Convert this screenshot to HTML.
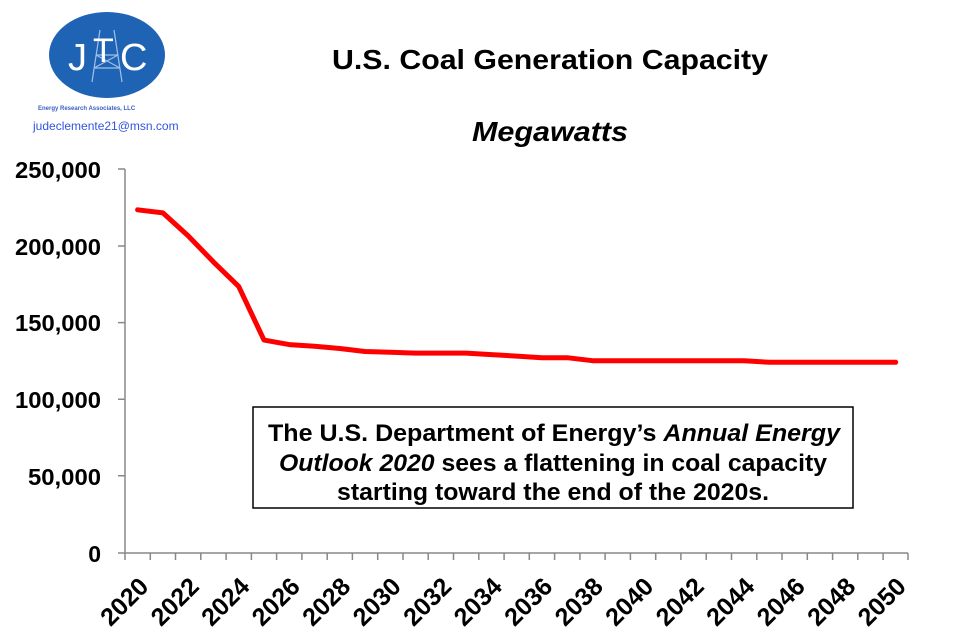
<!DOCTYPE html>
<html><head><meta charset="utf-8"><style>
body{margin:0;background:#fff;}
svg{display:block;font-family:"Liberation Sans",Arial,sans-serif;}
</style></head><body>
<svg width="958" height="643" viewBox="0 0 958 643" xmlns="http://www.w3.org/2000/svg">
<ellipse cx="107" cy="55" rx="58" ry="43" fill="#1f63b4"/>
<g stroke="#9fc0e8" stroke-width="1.2" fill="none">
<path d="M100 30 L92 82 M114 30 L122 82 M96 55 L118 55 M94 68 L120 68 M96 55 L120 68 M118 55 L94 68"/>
</g>
<text x="68" y="70" font-size="38" fill="#fff">J</text>
<text x="93" y="62" font-size="34" fill="#fff">T</text>
<text x="120" y="70" font-size="38" fill="#fff">C</text>
<text x="38" y="110" font-size="6" font-weight="bold" fill="#3a5fc0">Energy Research Associates, LLC</text>
<text x="33" y="130" font-size="12" fill="#3355dd">judeclemente21@msn.com</text>
<text x="332" y="69" font-size="28" font-weight="bold" textLength="436" lengthAdjust="spacingAndGlyphs">U.S. Coal Generation Capacity</text>
<text x="472" y="141" font-size="28" font-weight="bold" font-style="italic" textLength="156" lengthAdjust="spacingAndGlyphs">Megawatts</text>
<g stroke="#888" stroke-width="1.5" fill="none">
<line x1="125" y1="169" x2="125" y2="553"/>
<line x1="118" y1="553" x2="908" y2="553"/>
<path d="M118 169H125M118 246H125M118 322.6H125M118 399.2H125M118 475.8H125"/>
<path d="M125 553v7M150.3 553v7M175.5 553v7M200.8 553v7M226.1 553v7M251.4 553v7M276.6 553v7M301.9 553v7M327.2 553v7M352.4 553v7M377.7 553v7M403 553v7M428.2 553v7M453.5 553v7M478.8 553v7M504.1 553v7M529.3 553v7M554.6 553v7M579.9 553v7M605.1 553v7M630.4 553v7M655.7 553v7M680.9 553v7M706.2 553v7M731.5 553v7M756.8 553v7M782 553v7M807.3 553v7M832.6 553v7M857.8 553v7M883.1 553v7M908 553v7"/>
</g>
<g font-size="23" font-weight="bold" text-anchor="end">
<text x="101" y="178" textLength="86" lengthAdjust="spacingAndGlyphs">250,000</text>
<text x="101" y="255" textLength="86" lengthAdjust="spacingAndGlyphs">200,000</text>
<text x="101" y="331" textLength="86" lengthAdjust="spacingAndGlyphs">150,000</text>
<text x="101" y="408" textLength="86" lengthAdjust="spacingAndGlyphs">100,000</text>
<text x="101" y="485" textLength="73" lengthAdjust="spacingAndGlyphs">50,000</text>
<text x="101" y="562">0</text>
</g>
<g font-size="25" font-weight="bold" text-anchor="end">
<text transform="translate(150,588) rotate(-45)">2020</text>
<text transform="translate(200.5,588) rotate(-45)">2022</text>
<text transform="translate(251,588) rotate(-45)">2024</text>
<text transform="translate(301.5,588) rotate(-45)">2026</text>
<text transform="translate(352,588) rotate(-45)">2028</text>
<text transform="translate(402.5,588) rotate(-45)">2030</text>
<text transform="translate(453,588) rotate(-45)">2032</text>
<text transform="translate(503.5,588) rotate(-45)">2034</text>
<text transform="translate(554,588) rotate(-45)">2036</text>
<text transform="translate(604.5,588) rotate(-45)">2038</text>
<text transform="translate(655,588) rotate(-45)">2040</text>
<text transform="translate(705.5,588) rotate(-45)">2042</text>
<text transform="translate(756,588) rotate(-45)">2044</text>
<text transform="translate(806.5,588) rotate(-45)">2046</text>
<text transform="translate(857,588) rotate(-45)">2048</text>
<text transform="translate(907.5,588) rotate(-45)">2050</text>
</g>
<polyline fill="none" stroke="#ff0000" stroke-width="5" stroke-linejoin="round" stroke-linecap="round" points="137.6,209.8 162.9,212.9 188.2,235.9 213.4,261.9 238.7,286.4 264,340.1 289.2,344.6 314.5,346.2 339.8,348.5 365,351.5 390.3,352.3 415.6,353.1 440.8,353.1 466.1,353.1 491.4,354.6 516.7,356.1 541.9,357.7 567.2,357.7 592.5,360.7 617.7,360.7 643,360.7 668.3,360.7 693.5,360.7 718.8,360.7 744.1,360.7 769.4,362.3 794.6,362.3 819.9,362.3 845.2,362.3 870.4,362.3 895.7,362.3"/>
<rect x="253" y="407" width="600" height="101" fill="#fff" stroke="#000" stroke-width="1.5"/>
<g font-size="24" font-weight="bold">
<text x="268" y="441" textLength="572" lengthAdjust="spacingAndGlyphs">The U.S. Department of Energy’s <tspan font-style="italic">Annual Energy</tspan></text>
<text x="279" y="471" textLength="548" lengthAdjust="spacingAndGlyphs"><tspan font-style="italic">Outlook 2020</tspan> sees a flattening in coal capacity</text>
<text x="337" y="500" textLength="432" lengthAdjust="spacingAndGlyphs">starting toward the end of the 2020s.</text>
</g>
</svg>
</body></html>
